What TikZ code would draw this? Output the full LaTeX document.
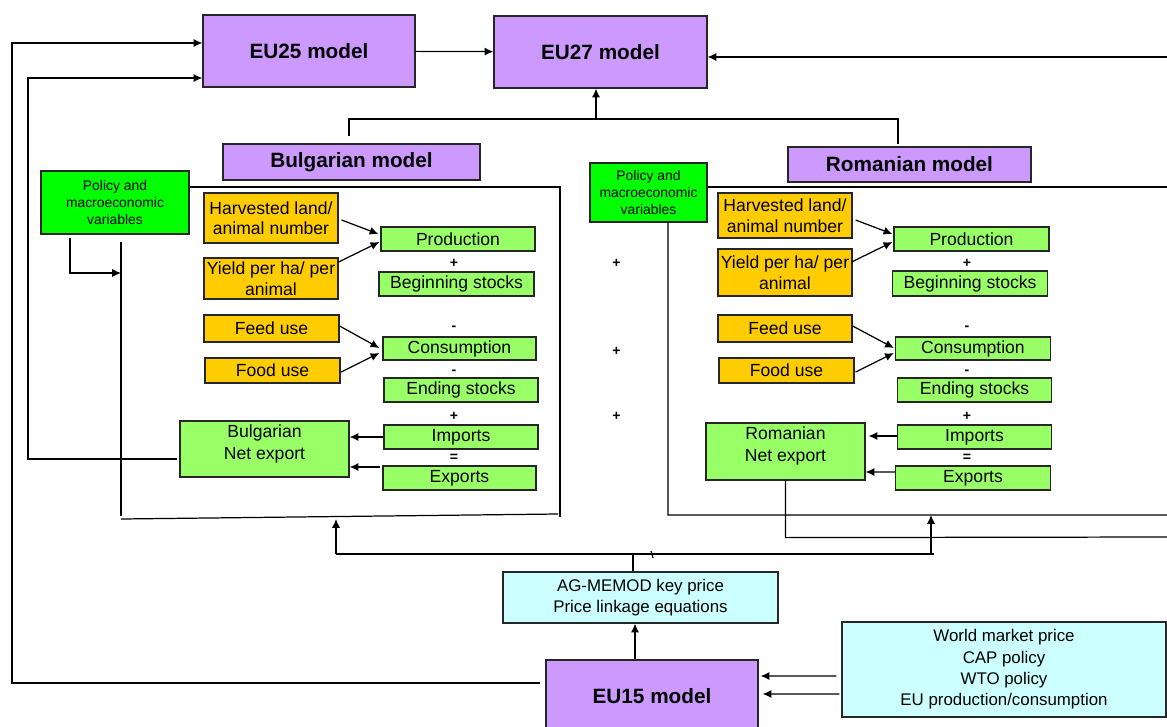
\documentclass[tikz,border=0pt]{standalone}
\usepackage{fontspec}
\setmainfont{Liberation Sans}
\usetikzlibrary{calc}
\usetikzlibrary{arrows.meta}
\definecolor{lav}{HTML}{CC99FF}
\definecolor{polgreen}{HTML}{00FF00}
\definecolor{mktgreen}{HTML}{99FF66}
\definecolor{amber}{HTML}{FFCC00}
\definecolor{palecyan}{HTML}{CCFFFF}
\tikzset{
  box/.style={draw=black!85, line width=0.7pt, inner sep=1pt, align=center},
  wh/.style 2 args={minimum width=#1*0.02cm, minimum height=#2*0.02cm},
  model/.style={box, fill=lav, font=\fontsize{11.8}{13.5}\selectfont\bfseries},
  policy/.style={box, fill=polgreen, font=\fontsize{7.9}{9.6}\selectfont},
  driver/.style={box, fill=amber, font=\fontsize{10}{11.7}\selectfont},
  balance/.style={box, fill=mktgreen, font=\fontsize{10}{11.7}\selectfont},
  netbox/.style={box, fill=mktgreen, text depth=8pt, font=\fontsize{10}{12.4}\selectfont},
  pricebox/.style={box, fill=palecyan, font=\fontsize{9.6}{12.1}\selectfont},
  sign/.style={font=\fontsize{8}{9}\selectfont\bfseries, inner sep=0pt},
  wire/.style={line width=0.7pt},
  arr/.style={wire, ->, >={Latex[length=5pt,width=4.6pt]}},
}
\begin{document}
\begin{tikzpicture}[x=0.02cm, y=-0.02cm]
\useasboundingbox (0,0) rectangle (1167,727);
\node[model, wh={212}{72}] (eu25) at (309,51) {EU25 model};
\node[model, wh={213}{72}] (eu27) at (600.5,52) {EU27 model};
\node[model, wh={212}{72}] (eu15) at (652,696) {EU15 model};
\node[model, wh={257}{36}] (bgmodel) at (351.5,162) {Bulgarian model};
\node[model, wh={243}{35}] (romodel) at (909.5,164.5) {Romanian model};
\node[policy, wh={148}{63}] (bgpolicy) at (115,202.5) {Policy and\\macroeconomic\\variables};
\node[policy, wh={117}{59}] (ropolicy) at (648.5,192.5) {Policy and\\macroeconomic\\variables};
\node[pricebox, wh={275}{51}] (agmemod) at (640.5,597.5) {AG-MEMOD key price\\Price linkage equations};
\node[pricebox, wh={324}{95}] (world) at (1004,669.5) {World market price\\CAP policy\\WTO policy\\EU production/consumption};
%Bulgaria
\node[driver, wh={134}{50}] (bgharv) at (271,218) {Harvested land/\\animal number};
\node[driver, wh={134}{41}] (bgyield) at (271,278.5) {Yield per ha/ per\\animal};
\node[driver, wh={135}{27}] (bgfeed) at (271.5,328.5) {Feed use};
\node[driver, wh={135}{25}] (bgfood) at (272.5,370.5) {Food use};
\node[balance, wh={154}{24}] (bgprod) at (458,239) {Production};
\node[balance, wh={155}{24}] (bgbeg) at (456.5,284) {Beginning stocks};
\node[balance, wh={153}{23}] (bgcons) at (459.5,348.5) {Consumption};
\node[balance, wh={154}{24}] (bgend) at (461,390) {Ending stocks};
\node[balance, wh={154}{24}] (bgimp) at (461,437) {Imports};
\node[balance, wh={153}{24}] (bgexp) at (459.5,478) {Exports};
\node[netbox, wh={169}{56}] (bgnet) at (264.5,449) {Bulgarian\\Net export};
%Romania
\node[driver, wh={134}{45}] (roharv) at (785,215.5) {Harvested land/\\animal number};
\node[driver, wh={134}{47}] (royield) at (785,272.5) {Yield per ha/ per\\animal};
\node[driver, wh={134}{27}] (rofeed) at (785,328.5) {Feed use};
\node[driver, wh={135}{25}] (rofood) at (786.5,370.5) {Food use};
\node[balance, wh={155}{24}] (roprod) at (971.5,239) {Production};
\node[balance, wh={155}{25}] (robeg) at (970,283.5) {Beginning stocks};
\node[balance, wh={155}{23}] (rocons) at (973,348.5) {Consumption};
\node[balance, wh={154}{24}] (roend) at (974.5,390) {Ending stocks};
\node[balance, wh={154}{24}] (roimp) at (974.5,437) {Imports};
\node[balance, wh={155}{24}] (roexp) at (973,478) {Exports};
\node[netbox, wh={159}{57}] (ronet) at (785.5,451.5) {Romanian\\Net export};
\foreach \s/\y [count=\i] in {+/263, -/328, -/372, +/416, =/458}{
  \node[sign] (bgs\i) at (454,\y) {\s};
  \node[sign] (ros\i) at (967,\y) {\s};
}
\foreach \y [count=\i] in {263,351,416}
  \node[sign] (mid\i) at (616.5,\y) {+};

\draw[arr] (eu25) -- (eu27);
\coordinate (outerL) at (12,683);
\draw[arr] ($(eu15.west)+(-5,-13)$) -- (outerL) |- ($(eu25.west)+(0,-8)$);
\coordinate (innerL) at (28,459);
\draw[arr] ($(bgnet.west)+(-2,10)$) -- (innerL) |- ($(eu25.west)+(0,27)$);
\coordinate (rightEnd) at (1167,57);
\draw[arr] (rightEnd) -- (eu27.east |- rightEnd);
\coordinate (join) at (596,119);
\draw[wire] ($(bgmodel.north)+(-2.5,-7)$) |- (join) -| ($(romodel.north)+(-11.5,-2)$);
\draw[arr] (join) -- (eu27.south -| join);

\coordinate (bgTR) at (560,187);
\draw[wire] (bgpolicy.east |- bgTR) -- (bgTR) -- (560,517);
\draw[wire] (121,242) -- (121,516);
\draw[wire] (121,519) -- (558,514);
\draw[arr] ($(bgpolicy.south)+(-45,3)$) |- (121,273);
\coordinate (roTop) at (1167,187);
\draw[wire] (ropolicy.east |- roTop) -- (roTop);
\draw[wire] ($(ropolicy.south)+(19.5,0)$) -- (668,515) -- (1167,515);
\draw[wire] (ronet.south) -- ++(0,57) -- (1167,537);

\coordinate (pl) at (336,554);
\coordinate (pr) at (934,554);
\draw[wire] (pl) -- (pr);
\draw[wire] ($(agmemod.north)+(-7.5,0)$) -- ++(0,-18);
\draw[wire] (651,551) -- (653,558);
\draw[arr] (pl) -- (336,519);
\draw[arr] ($(pr)+(-3,0)$) -- (931,515);
\draw[arr] ($(eu15.north)+(-17,0)$) -- ($(agmemod.south)+(-5.5,0)$);
\draw[arr] ($(world.west)+(-5,6.5)$) -- ($(eu15.east)+(2,-20)$);
\draw[arr] ($(world.west)+(-2,24.5)$) -- ($(eu15.east)+(4,-2)$);

\draw[arr] ($(bgharv.east)+(3,2)$) -- ($(bgprod.west)+(-2,-5)$);
\draw[arr] ($(bgyield.east)+(0,-16.5)$) -- ($(bgprod.west)+(-1,3)$);
\draw[arr] ($(bgfeed.east)+(0,-2.5)$) -- ($(bgcons.west)+(-3,-0.5)$);
\draw[arr] ($(bgfood.east)+(0.5,1.5)$) -- ($(bgcons.west)+(-3,4.5)$);
\draw[arr] (bgimp.west) -- ($(bgnet.east)+(0,-12)$);
\draw[arr] ($(bgexp.west)+(-2,-11)$) -- ($(bgnet.east)+(0,18)$);
\draw[arr] ($(roharv.east)+(3,4.5)$) -- ($(roprod.west)+(-1,-5)$);
\draw[arr] ($(royield.east)+(-1,-10.5)$) -- ($(roprod.west)+(-1,3)$);
\draw[arr] ($(rofeed.east)+(0,-2.5)$) -- ($(rocons.west)+(-1,-0.5)$);
\draw[arr] ($(rofood.east)+(1,1.5)$) -- ($(rocons.west)+(-1,4.5)$);
\draw[arr] ($(roimp.west)+(0,-1)$) -- ($(ronet.east)+(3,-15.5)$);
\draw[arr] ($(roexp.west)+(0,-6)$) -- ($(ronet.east)+(0,20.5)$);
\end{tikzpicture}
\end{document}
